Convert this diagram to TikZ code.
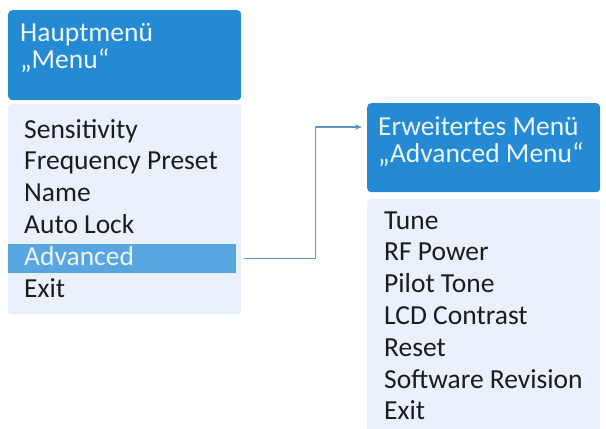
\documentclass[tikz,border=0pt]{standalone}
\usepackage{fontspec}
\setmainfont{Carlito}
\usepackage{xcolor}
\usepackage{tikz}
\usetikzlibrary{arrows.meta, positioning, calc}
\definecolor{MenuBlue}{RGB}{36, 138, 212}
\definecolor{MenuBody}{RGB}{233, 242, 252}
\definecolor{MenuMark}{RGB}{88, 165, 224}
\definecolor{MenuLink}{RGB}{96, 150, 190}
\definecolor{MenuTextDark}{RGB}{28, 28, 30}
\definecolor{MenuTextLight}{RGB}{236, 245, 252}

\tikzset{
  menuhead/.style={
    rounded corners=4pt, fill=MenuBlue, draw=none,
    anchor=north west, minimum width=233pt, inner sep=0pt
  },
  menubody/.style={
    rounded corners=3pt, fill=MenuBody, draw=none,
    anchor=north west, minimum width=233pt, inner sep=0pt
  },
  menutitle/.style={
    anchor=base west, inner sep=0pt, align=left, text=MenuTextLight,
    font=\fontsize{27.5}{26.5}\selectfont
  },
  menuitem/.style={
    anchor=base west, inner sep=0pt, font=\fontsize{27.5}{30}\selectfont
  },
  menulink/.style={
    draw=MenuLink, line width=1.4pt, -{Stealth[length=7pt, width=5.5pt]}
  }
}

\begin{document}
\begin{tikzpicture}[x=1pt, y=-1pt]
  \useasboundingbox (0,0) rectangle (606,429);

  % main menu
  \node[menuhead, minimum height=90pt] (mainhead) at (8,10) {};
  \node[menutitle] (maintitle) at (20,68) {Hauptmenü\\„Menu“};
  \node[menubody, minimum height=210pt] (mainbody) at (8,104) {};
  \node[fill=MenuMark, anchor=north west, minimum width=228pt,
    minimum height=29pt, inner sep=0pt] (advbar) at (8,244) {};
  \foreach \i/\txt/\col in {0/Sensitivity/MenuTextDark, 1/Frequency Preset/MenuTextDark,
      2/Name/MenuTextDark, 3/Auto Lock/MenuTextDark, 4/Advanced/MenuTextLight,
      5/Exit/MenuTextDark}
    \node[menuitem, text=\col] (main\i) at (24, 138+31.8*\i) {\txt};

  % advanced menu
  \node[menuhead, minimum height=89pt] (advhead) at (367,103) {};
  \node[menutitle] (advtitle) at (378,162) {Erweitertes Menü\\„Advanced Menu“};
  \node[menubody, minimum height=232pt] (advbody) at (367,199) {};
  \foreach \txt [count=\i from 0] in {Tune, RF Power, Pilot Tone, LCD Contrast,
      Reset, Software Revision, Exit}
    \node[menuitem, text=MenuTextDark] (adv\i) at (384, 229+31.8*\i) {\txt};

  % link
  \draw[menulink, shorten <=8pt, shorten >=5pt]
    (advbar.east) -- ($(advbar.east)+(79,0)$) |- ([yshift=-24pt]advhead.north west);
\end{tikzpicture}
\end{document}
